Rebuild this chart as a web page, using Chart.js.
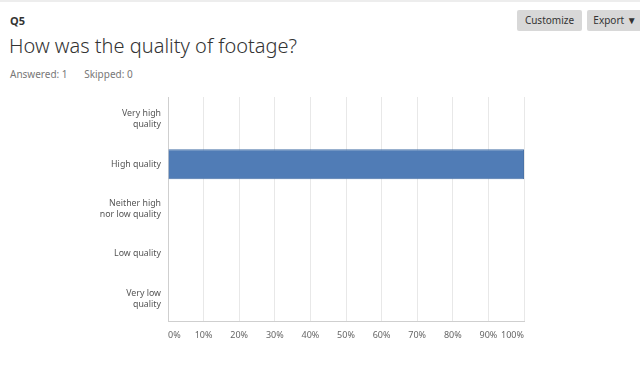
<!DOCTYPE html>
<html>
<head>
<meta charset="utf-8">
<script src="https://cdn.jsdelivr.net/npm/chart.js@4.4.0/dist/chart.umd.min.js"></script>
<style>
  html, body { margin:0; padding:0; width:640px; height:371px; overflow:hidden; background:#fff; font-family:"Noto Sans","Open Sans",sans-serif; }
  #topline { position:absolute; left:0; top:0; width:640px; height:2px; background:#ededed; }
  #q { position:absolute; left:10px; top:13px; font-size:11px; font-weight:bold; color:#333; }
  #title { position:absolute; left:9px; top:32px; font-size:20px; color:#333; font-weight:300; }
  #meta { position:absolute; left:10px; top:67px; font-size:10px; color:#777; }
  #meta span { margin-right:14px; }
  .btn { position:absolute; top:10px; height:21px; line-height:21px; background:#d8d8d8; color:#333; font-size:10px; text-align:center; border-radius:2px; }
  #cust { left:517px; width:65px; }
  #exp { left:587px; width:56px; }
  #wrap { position:absolute; left:0; top:79px; width:640px; height:292px; }
</style>
</head>
<body>
<div id="topline"></div>
<div id="q">Q5</div>
<div id="title">How was the quality of footage?</div>
<div id="meta"><span>Answered: 1</span> <span>Skipped: 0</span></div>
<div class="btn" id="cust">Customize</div>
<div class="btn" id="exp">Export &#9660;</div>
<div id="wrap"><canvas id="c" width="640" height="292"></canvas></div>
<script>
const categories = [["Very high","quality"], "High quality", ["Neither high","nor low quality"], "Low quality", ["Very low","quality"]];
const values = [0, 100, 0, 0, 0];
const xTicks = [0,10,20,30,40,50,60,70,80,90,100];

new Chart(document.getElementById('c'), {
  type: 'bar',
  data: {
    labels: categories,
    datasets: [{
      data: values,
      backgroundColor: '#507cb6',
      borderColor: '#4a73a8',
      borderWidth: 1,
      barPercentage: 0.67,
      categoryPercentage: 1.0
    }]
  },
  options: {
    indexAxis: 'y',
    responsive: false,
    animation: false,
    layout: { padding: { top: 0, right: 116, left: 0, bottom: 0 } },
    plugins: { legend: { display: false }, tooltip: { enabled: false } },
    scales: {
      x: {
        min: 0, max: 100,
        afterBuildTicks: s => { s.ticks = xTicks.map(v => ({ value: v })); },
        afterFit: s => { s.height = 50; },
        grid: { color: '#e8e8e8', drawTicks: false },
        border: { color: '#cfcfcf' },
        ticks: {
          align: 'inner',
          padding: 9,
          color: '#666',
          font: { family: '"Noto Sans","Open Sans",sans-serif', size: 9 },
          callback: v => v + '%'
        }
      },
      y: {
        afterFit: s => { s.width = 168; },
        grid: { display: false, drawTicks: false },
        border: { color: '#cfcfcf' },
        ticks: {
          padding: 7,
          color: '#555',
          font: { family: '"Noto Sans","Open Sans",sans-serif', size: 8.8, lineHeight: 1.25 }
        }
      }
    }
  }
});
</script>
</body>
</html>
